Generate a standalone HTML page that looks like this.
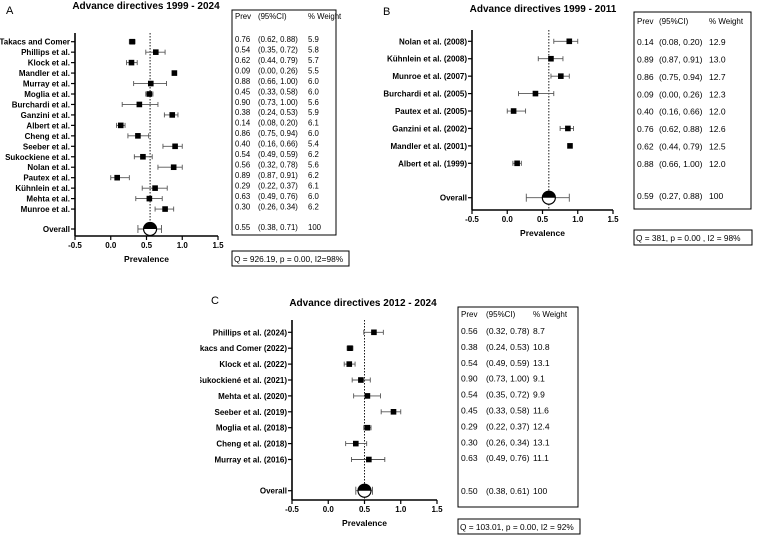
<!DOCTYPE html>
<html><head><meta charset="utf-8"><style>
html,body{margin:0;padding:0;background:#fff;}
svg{display:block;font-family:"Liberation Sans",Arial,sans-serif;}
</style></head><body>
<svg id="chart" width="762" height="535" viewBox="0 0 762 535" xmlns="http://www.w3.org/2000/svg">
<defs>
<clipPath id="clipB"><rect x="380" y="0" width="382" height="270"/></clipPath>
<clipPath id="clipC"><rect x="200" y="270" width="562" height="265"/></clipPath>
</defs>
</svg>
<script>
// Panel A data
const aStudies = ["Takacs and Comer","Phillips et al.","Klock et al.","Mandler et al.","Murray et al.","Moglia et al.","Burchardi et al.","Ganzini et al.","Albert et al.","Cheng et al.","Seeber et al.","Sukockiene et al.","Nolan et al.","Pautex et al.","Kühnlein et al.","Mehta et al.","Munroe et al."];
const aEst = [0.30,0.63,0.29,0.89,0.56,0.54,0.40,0.86,0.14,0.38,0.90,0.45,0.88,0.09,0.62,0.54,0.76];
const aLo  = [0.26,0.49,0.22,0.87,0.32,0.49,0.16,0.75,0.08,0.24,0.73,0.33,0.66,0.00,0.44,0.35,0.62];
const aHi  = [0.34,0.76,0.37,0.91,0.78,0.59,0.66,0.94,0.20,0.53,1.00,0.58,1.00,0.26,0.79,0.72,0.88];
const aOverall = [0.55,0.38,0.71];
const aTable = ["0.76|(0.62, 0.88)|5.9","0.54|(0.35, 0.72)|5.8","0.62|(0.44, 0.79)|5.7","0.09|(0.00, 0.26)|5.5","0.88|(0.66, 1.00)|6.0","0.45|(0.33, 0.58)|6.0","0.90|(0.73, 1.00)|5.6","0.38|(0.24, 0.53)|5.9","0.14|(0.08, 0.20)|6.1","0.86|(0.75, 0.94)|6.0","0.40|(0.16, 0.66)|5.4","0.54|(0.49, 0.59)|6.2","0.56|(0.32, 0.78)|5.6","0.89|(0.87, 0.91)|6.2","0.29|(0.22, 0.37)|6.1","0.63|(0.49, 0.76)|6.0","0.30|(0.26, 0.34)|6.2"];
const aTableOverall = "0.55|(0.38, 0.71)|100";
// Panel B data
const bStudies = ["Nolan et al. (2008)","Kühnlein et al. (2008)","Munroe et al. (2007)","Burchardi et al. (2005)","Pautex et al. (2005)","Ganzini et al. (2002)","Mandler et al. (2001)","Albert et al. (1999)"];
const bEst = [0.88,0.62,0.76,0.40,0.09,0.86,0.89,0.14];
const bLo  = [0.66,0.44,0.62,0.16,0.00,0.75,0.87,0.08];
const bHi  = [1.00,0.79,0.88,0.66,0.26,0.94,0.91,0.20];
const bOverall = [0.59,0.27,0.88];
const bTable = ["0.14|(0.08, 0.20)|12.9","0.89|(0.87, 0.91)|13.0","0.86|(0.75, 0.94)|12.7","0.09|(0.00, 0.26)|12.3","0.40|(0.16, 0.66)|12.0","0.76|(0.62, 0.88)|12.6","0.62|(0.44, 0.79)|12.5","0.88|(0.66, 1.00)|12.0"];
const bTableOverall = "0.59|(0.27, 0.88)|100";
// Panel C data
const cStudies = ["Phillips et al. (2024)","Takacs and Comer (2022)","Klock et al. (2022)","Sukockiené et al. (2021)","Mehta et al. (2020)","Seeber et al. (2019)","Moglia et al. (2018)","Cheng et al. (2018)","Murray et al. (2016)"];
const cEst = [0.63,0.30,0.29,0.45,0.54,0.90,0.54,0.38,0.56];
const cLo  = [0.49,0.26,0.22,0.33,0.35,0.73,0.49,0.24,0.32];
const cHi  = [0.76,0.34,0.37,0.58,0.72,1.00,0.59,0.53,0.78];
const cOverall = [0.50,0.38,0.61];
const cTable = ["0.56|(0.32, 0.78)|8.7","0.38|(0.24, 0.53)|10.8","0.54|(0.49, 0.59)|13.1","0.90|(0.73, 1.00)|9.1","0.54|(0.35, 0.72)|9.9","0.45|(0.33, 0.58)|11.6","0.29|(0.22, 0.37)|12.4","0.30|(0.26, 0.34)|13.1","0.63|(0.49, 0.76)|11.1"];
const cTableOverall = "0.50|(0.38, 0.61)|100";
const xTicks = [-0.5,0.0,0.5,1.0,1.5];
const xTickLabels = ["-0.5","0.0","0.5","1.0","1.5"];

const NS = "http://www.w3.org/2000/svg";
const svg = document.getElementById("chart");
function mk(tag, attrs, parent, text){
  const e = document.createElementNS(NS, tag);
  for (const k in attrs) e.setAttribute(k, attrs[k]);
  if (text !== undefined) e.textContent = text;
  parent.appendChild(e);
  return e;
}

function panel(cfg){
  const g = mk("g", cfg.clip ? {"clip-path":"url(#"+cfg.clip+")"} : {}, svg);
  
  
  const X = v => cfg.x0 + (v + 0.5) * (cfg.x1 - cfg.x0) / 2;
  const Y = i => cfg.yFirst + i * cfg.step;
  const lt = mk("text",{x:cfg.letterX,y:cfg.letterY,"font-size":"11",fill:"#000"},g,cfg.letter);
  
  
  const tt = mk("text",{x:cfg.titleX,y:cfg.titleY,"font-size":"10","font-weight":"bold","text-anchor":"middle"},g,cfg.title);
  
  
  const ya = mk("line",{x1:cfg.x0,y1:cfg.yTop,x2:cfg.x0,y2:cfg.yAxis,stroke:"#000","stroke-width":"1.6"},g);
  
  
  const xa = mk("line",{x1:cfg.x0,y1:cfg.yAxis,x2:cfg.x1,y2:cfg.yAxis,stroke:"#000","stroke-width":"1.6"},g);
  
  
  xTicks.forEach((t,i)=>{
    mk("line",{x1:X(t),y1:cfg.yAxis,x2:X(t),y2:cfg.yAxis+4,stroke:"#000","stroke-width":"1.2"},g);
    const tl = mk("text",{x:X(t),y:cfg.yAxis+12,"font-size":"8","font-weight":"bold","text-anchor":"middle"},g,xTickLabels[i]);
    
    
  });
  const xl = mk("text",{x:(cfg.x0+cfg.x1)/2,y:cfg.yAxis+26,"font-size":"8.5","font-weight":"bold","text-anchor":"middle"},g,"Prevalence");
  
  
  const ref = mk("line",{x1:X(cfg.overall[0]),y1:cfg.yTop,x2:X(cfg.overall[0]),y2:cfg.yAxis,stroke:"#000","stroke-width":"0.9","stroke-dasharray":"1.5,1.5"},g);
  
  
  cfg.studies.forEach((s,i)=>{
    const y = Y(i);
    mk("line",{x1:cfg.x0-4,y1:y,x2:cfg.x0,y2:y,stroke:"#000","stroke-width":"1.2"},g);
    const lab = mk("text",{x:cfg.x0-5,y:y+3,"font-size":"8","font-weight":"bold","text-anchor":"end"},g,s);
    
    
    const ci = mk("line",{x1:X(cfg.lo[i]),y1:y,x2:X(cfg.hi[i]),y2:y,stroke:"#555","stroke-width":"0.9"},g);
    
    
    [cfg.lo[i],cfg.hi[i]].forEach(v=>mk("line",{x1:X(v),y1:y-2.5,x2:X(v),y2:y+2.5,stroke:"#555","stroke-width":"0.9"},g));
    const pt = mk("rect",{x:X(cfg.est[i])-2.8,y:y-2.8,width:5.6,height:5.6,fill:"#000"},g);
    
    
  });
  const oy = cfg.yOverall;
  mk("line",{x1:cfg.x0-4,y1:oy,x2:cfg.x0,y2:oy,stroke:"#000","stroke-width":"1.2"},g);
  const ol = mk("text",{x:cfg.x0-5,y:oy+3,"font-size":"8","font-weight":"bold","text-anchor":"end"},g,"Overall");
  
  
  const oc = mk("line",{x1:X(cfg.overall[1]),y1:oy,x2:X(cfg.overall[2]),y2:oy,stroke:"#555","stroke-width":"0.9"},g);
  
  
  [cfg.overall[1],cfg.overall[2]].forEach(v=>mk("line",{x1:X(v),y1:oy-4,x2:X(v),y2:oy+4,stroke:"#555","stroke-width":"0.9"},g));
  const cx = X(cfg.overall[0]), r = 6.5;
  const circ = mk("circle",{cx:cx,cy:oy,r:r,fill:"#fff",stroke:"#000","stroke-width":"1.2"},g);
  
  
  mk("path",{d:`M${cx-r},${oy} A${r},${r} 0 0 1 ${cx+r},${oy} Z`,fill:"#000"},g);
  const tb = mk("rect",{x:cfg.tx,y:cfg.ty,width:cfg.tw,height:cfg.th,fill:"none",stroke:"#000","stroke-width":"1"},g);
  
  
  const cols = [cfg.tx+3, cfg.tx+3+cfg.c1, cfg.tx+3+cfg.c2];
  ["Prev","(95%CI)","% Weight"].forEach((h,k)=>{
    const ht = mk("text",{x:cols[k],y:cfg.tHead,"font-size":cfg.hf},g,h);
    
    
  });
  const rowText = (str,y)=>{
    str.split("|").forEach((p,k)=>{
      const t = mk("text",{x:cols[k],y:y,"font-size":cfg.tf},g,p);
      
      
    });
  };
  cfg.table.forEach((r2,i)=>rowText(r2, cfg.tRow0 + i*cfg.step));
  rowText(cfg.tableOverall, cfg.tOverall);
  const qb = mk("rect",{x:cfg.qx,y:cfg.qy,width:cfg.qw,height:15,fill:"none",stroke:"#000","stroke-width":"1"},g);
  
  
  const qt = mk("text",{x:cfg.qx+2,y:cfg.qy+11,"font-size":"8.3"},g,cfg.q);
  
  
}

panel({name:"panel-a",letter:"A",letterX:6,letterY:14,title:"Advance directives 1999 - 2024",titleX:146,titleY:9,
  x0:75,x1:218,yTop:33,yAxis:236,yFirst:41.7,step:10.46,yOverall:229,
  studies:aStudies,est:aEst,lo:aLo,hi:aHi,overall:aOverall,
  tx:232,ty:10,tw:104,th:225,c1:23,c2:73,tf:"7.8",hf:"7.8",tHead:19,tRow0:42,table:aTable,tableOverall:aTableOverall,tOverall:230,
  qx:232,qy:251,qw:117,q:"Q = 926.19, p = 0.00, I2=98%"});
panel({name:"panel-b",clip:"clipB",letter:"B",letterX:383,letterY:15,title:"Advance directives 1999 - 2011",titleX:543,titleY:12,
  x0:472,x1:613,yTop:30,yAxis:210,yFirst:41.3,step:17.43,yOverall:197.7,
  studies:bStudies,est:bEst,lo:bLo,hi:bHi,overall:bOverall,
  tx:634,ty:12,tw:117,th:197,c1:22,c2:72,tf:"8.5",hf:"8",tHead:24,tRow0:45,table:bTable,tableOverall:bTableOverall,tOverall:199,
  qx:634,qy:230,qw:118,q:"Q = 381, p = 0.00 , I2 = 98%"});
panel({name:"panel-c",clip:"clipC",letter:"C",letterX:211,letterY:304,title:"Advance directives 2012 - 2024",titleX:363,titleY:306,
  x0:292,x1:437,yTop:320,yAxis:500,yFirst:332.3,step:15.9,yOverall:490.7,
  studies:cStudies,est:cEst,lo:cLo,hi:cHi,overall:cOverall,
  tx:458,ty:307,tw:120,th:200,c1:25,c2:72,tf:"8.5",hf:"8",tHead:317,tRow0:334,table:cTable,tableOverall:cTableOverall,tOverall:494,
  qx:458,qy:519,qw:122,q:"Q = 103.01, p = 0.00, I2 = 92%"});
</script>
</body></html>
